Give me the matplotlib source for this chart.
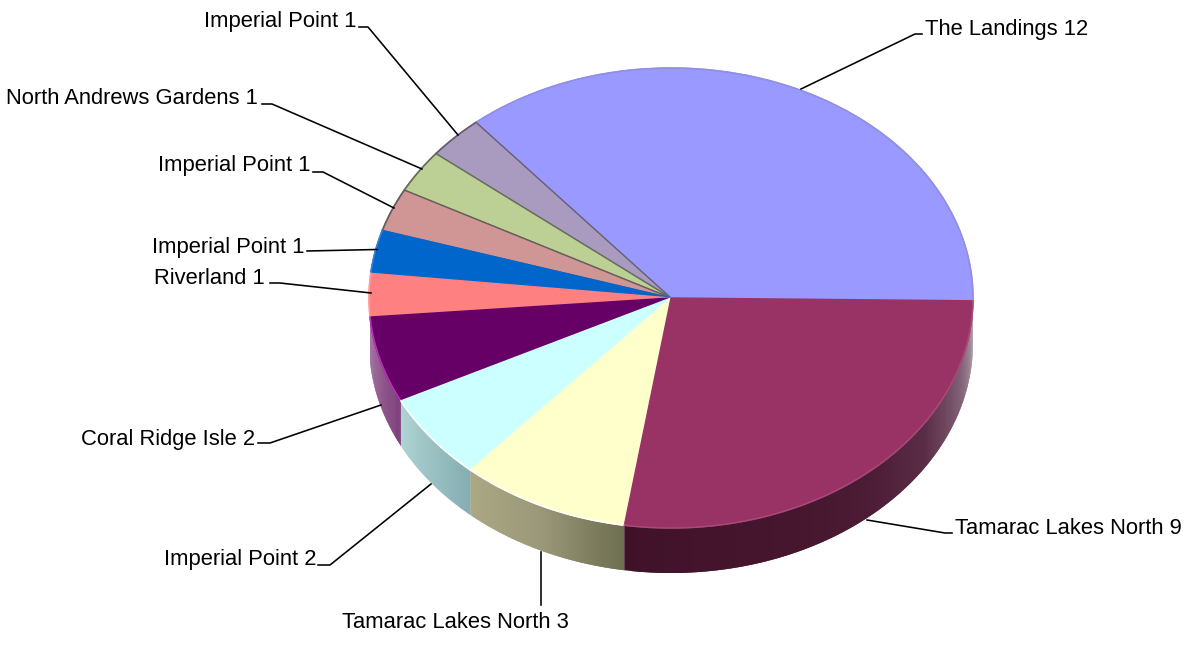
import numpy as np
import matplotlib
matplotlib.use("Agg")
import matplotlib.pyplot as plt
from matplotlib.collections import PolyCollection
from matplotlib.colors import to_rgb

names = ["The Landings", "Imperial Point", "North Andrews Gardens", "Imperial Point",
         "Imperial Point", "Riverland", "Coral Ridge Isle", "Imperial Point",
         "Tamarac Lakes North", "Tamarac Lakes North"]
values = [12, 1, 1, 1, 1, 1, 2, 2, 3, 9]
colors = ["#9999ff", "#a99bbf", "#bcd096", "#d09696", "#0066cc",
          "#ff8080", "#660066", "#ccffff", "#ffffcc", "#993366"]
edges = ["#9090f0", "#66606e", "#667058", "#6a5c5c", "#0066cc",
         "#ff8080", "#660066", "#ccffff", "#ffffcc", "#993366"]
rims = ["#8f8fe6", "#66606e", "#667058", "#6a5c5c", "#3a80d8",
        "#ffa0a0", "#c030c0", "#ffffff", "#ffffff", "#a84a78"]
wall_stops = {
    6: ["#a06a9c", "#7c3f7a"],
    7: ["#b0d4d4", "#86aeb2"],
    8: ["#aca884", "#9a9878", "#6e6e50"],
    9: ["#401228", "#43142c", "#46162e", "#4c1c36", "#5a2c46", "#806074", "#b8a8b0"],
}
label_x = [925, 356, 258, 310, 304, 265, 255, 316, 455, 955]
label_y = [29, 21, 98, 166, 247, 278, 439, 559, 622, 528]
label_ha = ["left", "right", "right", "right", "right", "right", "right", "right", "center", "left"]
leaders = [
    [(801, 89), (915, 34), (922, 34)],
    [(359, 27), (368, 27), (458, 135)],
    [(262, 104), (272, 104), (422, 169)],
    [(313, 172), (323, 172), (394, 208)],
    [(307, 251), (377, 249.5)],
    [(270, 283), (280, 283), (371, 293)],
    [(258, 443), (270, 443), (381, 405)],
    [(318, 565), (330, 565), (431, 484)],
    [(541, 552), (541, 605)],
    [(867, 520), (945, 533), (952, 533)],
]

W, H = 1184, 659
CX, CY, RX, RY, DEPTH = 671, 298, 302, 230, 45
START_DEG = -0.7
plt.rcParams["font.family"] = ["Liberation Sans", "DejaVu Sans"]
fig = plt.figure(figsize=(W / 100, H / 100), dpi=100, facecolor="white")

# Pie axes: unit circle mapped on the top ellipse
pie_ax = fig.add_axes([(CX - RX) / W, 1 - (CY + RY) / H, 2 * RX / W, 2 * RY / H])
wedges, _ = pie_ax.pie(values, colors=colors, startangle=START_DEG, counterclock=True, radius=1,
                       wedgeprops={"linewidth": 1.0, "zorder": 3})
pie_ax.set_aspect("auto")
pie_ax.set_xlim(-1, 1)
pie_ax.set_ylim(-1, 1)
pie_ax.axis("off")
for w, e in zip(wedges, edges):
    w.set_edgecolor(e)
    w.set_clip_on(False)

d = DEPTH / RY
bounds = np.radians(START_DEG) + np.concatenate([[0], np.cumsum(values)]) * 2 * np.pi / sum(values)

# Side wall, only the part that faces the viewer; quads overlap so no seams show
for i, stops in wall_stops.items():
    a0, a1 = max(bounds[i], np.pi), bounds[i + 1]
    ts = np.linspace(0, 1, 90)
    rgb = np.array([to_rgb(s) for s in stops])
    pos = np.linspace(0, 1, len(stops))
    step = (a1 - a0) / 89
    quads, fc = [], []
    for t0, t1 in zip(ts[:-1], ts[1:]):
        b0 = a0 + (a1 - a0) * t0
        b1 = min(a0 + (a1 - a0) * t1 + step, a1)
        bb = np.linspace(b0, b1, 4)
        top = np.column_stack([np.cos(bb), np.sin(bb)])
        bot = (top - [0, d])[::-1]
        quads.append(np.vstack([top, bot]))
        tm = (t0 + t1) / 2
        fc.append([np.interp(tm, pos, rgb[:, k]) for k in range(3)])
    pie_ax.add_collection(PolyCollection(quads, facecolors=fc, edgecolors="none", linewidths=0,
                                         zorder=1, clip_on=False))

# Rim highlight along the top edge
for i, c in enumerate(rims):
    tt = np.linspace(bounds[i], bounds[i + 1], 60)
    pie_ax.plot(np.cos(tt), np.sin(tt), color=c, lw=1.1, zorder=4, clip_on=False)

# Overlay axes in picture pixels, for the labels and leader lines
ov = fig.add_axes([0, 0, 1, 1], facecolor="none")
ov.set_xlim(0, W)
ov.set_ylim(H, 0)
ov.axis("off")
for name, v, x, y, ha, pts in zip(names, values, label_x, label_y, label_ha, leaders):
    ov.text(x, y, f"{name} {v}", ha=ha, va="center", fontsize=15.85, color="black")
    xs, ys = zip(*pts)
    ov.plot(xs, ys, color="black", lw=1.15, solid_joinstyle="round")

fig.savefig("out.png", dpi=100, facecolor="white")
